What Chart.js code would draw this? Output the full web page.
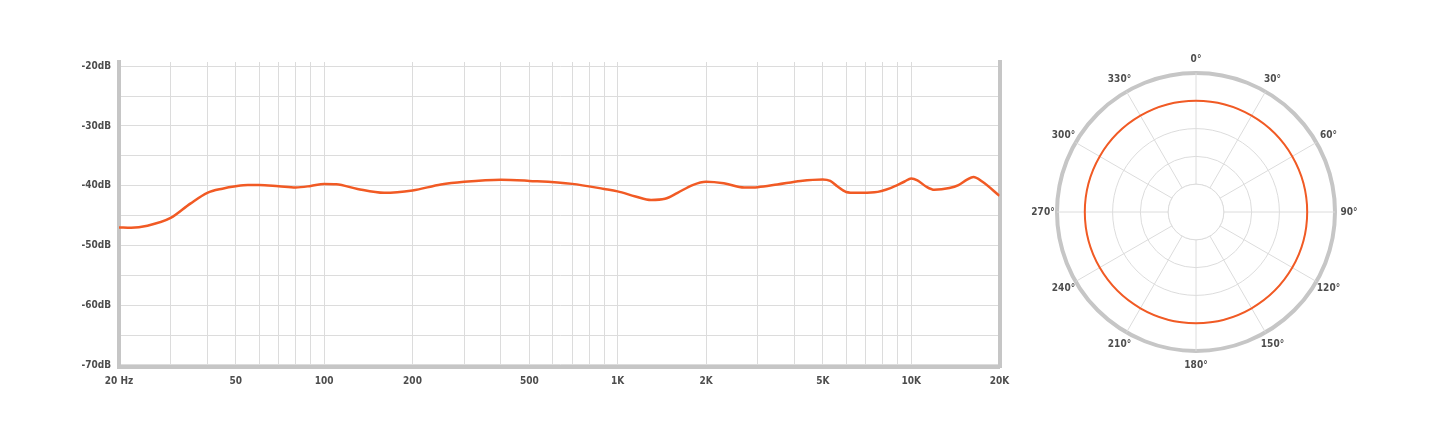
<!DOCTYPE html>
<html>
<head>
<meta charset="utf-8">
<script src="https://cdn.jsdelivr.net/npm/chart.js@4.4.1/dist/chart.umd.min.js"></script>
<style>
  html, body { margin: 0; padding: 0; background: #fff; }
  #resp { position: absolute; left: 0; top: 0; width: 1020px; height: 434px; }
  #polar { position: absolute; left: 1026px; top: 32px; width: 340px; height: 360px; }
</style>
</head>
<body>
<div id="resp"><canvas id="respChart"></canvas></div>
<div id="polar"><canvas id="polarChart"></canvas></div>
<script>
// frequency response (Hz / dB)
const freqHz = [20, 22, 25, 30, 35, 40, 45, 50, 55, 60, 70, 80, 90, 100, 110, 130, 160, 200, 250, 300,
  400, 500, 700, 900, 1000, 1150, 1300, 1450, 1600, 1800, 2000, 2300, 2700, 3000, 3500, 4200, 5000, 5300,
  5600, 6000, 6500, 7500, 8500, 9500, 10000, 10500, 11200, 12000, 13500, 14500, 15500, 16300, 17500, 20000];
const responseDb = [-47.0, -47.05, -46.7, -45.4, -43.0, -41.2, -40.5, -40.1, -39.9, -39.9, -40.1, -40.3, -40.05,
  -39.7, -39.75, -40.55, -41.2, -40.8, -39.8, -39.35, -39.0, -39.2, -39.7, -40.55, -40.95, -41.8, -42.4, -42.2,
  -41.2, -39.9, -39.35, -39.6, -40.3, -40.25, -39.8, -39.2, -38.95, -39.2, -40.1, -41.05, -41.2, -41.1, -40.4,
  -39.3, -38.8, -39.1, -40.1, -40.7, -40.4, -39.9, -39.0, -38.55, -39.35, -41.7];

// axis ticks
const freqGridLines = [20, 30, 40, 50, 60, 70, 80, 90, 100, 200, 300, 400, 500, 600, 700, 800, 900,
  1000, 2000, 3000, 4000, 5000, 6000, 7000, 8000, 9000, 10000, 20000];
const freqTicks = [20, 50, 100, 200, 500, 1000, 2000, 5000, 10000, 20000];
const freqTickLabels = ['20 Hz', '50', '100', '200', '500', '1K', '2K', '5K', '10K', '20K'];
const dbGridLines = [-70, -65, -60, -55, -50, -45, -40, -35, -30, -25, -20];
const dbTicks = [-20, -30, -40, -50, -60, -70];
const dbTickLabels = ['-20dB', '-30dB', '-40dB', '-50dB', '-60dB', '-70dB'];

// polar pattern
const polarAngles = ['0°', '30°', '60°', '90°', '120°', '150°', '180°', '210°', '240°', '270°', '300°', '330°'];
const polarLevel = [4, 4, 4, 4, 4, 4, 4, 4, 4, 4, 4, 4];

const orange = '#f15a24';
const gridColor = '#dcdcdc';
const frameColor = '#c6c6c6';
const textColor = '#4d4d4d';
const labelFont = "'Liberation Sans Narrow', 'DejaVu Sans Condensed', 'Roboto', sans-serif";

Chart.defaults.font.family = labelFont;
Chart.defaults.font.weight = 'bold';
Chart.defaults.font.size = 10;
Chart.defaults.color = textColor;

// 주파수 응답 차트
new Chart(document.getElementById('respChart'), {
  type: 'line',
  data: {
    datasets: [{
      data: freqHz.map((f, i) => ({ x: f, y: responseDb[i] })),
      borderColor: orange,
      borderWidth: 2.5,
      pointRadius: 0,
      fill: false,
      cubicInterpolationMode: 'monotone'
    }]
  },
  options: {
    responsive: true,
    maintainAspectRatio: false,
    animation: false,
    layout: { padding: { top: 62, left: 0, right: 0, bottom: 0 } },
    plugins: { legend: { display: false }, tooltip: { enabled: false } },
    scales: {
      x: {
        type: 'logarithmic',
        min: 20,
        max: 20000,
        afterBuildTicks: scale => { scale.ticks = freqGridLines.map(v => ({ value: v })); },
        afterFit: scale => { scale.height = 67; },
        ticks: {
          autoSkip: false,
          maxRotation: 0,
          padding: 8,
          callback: v => {
            const i = freqTicks.indexOf(v);
            return i >= 0 ? freqTickLabels[i] : '';
          }
        },
        grid: { color: gridColor, lineWidth: 1, drawTicks: false },
        border: { display: true, color: frameColor, width: 4 }
      },
      y: {
        min: -70.35,
        max: -19.3,
        afterBuildTicks: scale => { scale.ticks = dbGridLines.map(v => ({ value: v })); },
        afterFit: scale => { scale.width = 119; },
        ticks: {
          padding: 8,
          callback: v => {
            const i = dbTicks.indexOf(v);
            return i >= 0 ? dbTickLabels[i] : '';
          }
        },
        grid: { color: gridColor, lineWidth: 1, drawTicks: false },
        border: { display: true, color: frameColor, width: 4 }
      },
      y2: {
        position: 'right',
        min: -70.35,
        max: -19.3,
        afterFit: scale => { scale.width = 20.5; },
        ticks: { display: false },
        grid: { display: false, drawTicks: false },
        border: { display: true, color: frameColor, width: 4 }
      }
    }
  }
});

// 극좌표 라벨 (각도 방향 중앙 정렬)
const polarLabels = {
  id: 'polarLabels',
  beforeDatasetsDraw(chart) {
    const scale = chart.scales.r;
    const ctx = chart.ctx;
    const r1 = scale.getDistanceFromCenterForValue(1);
    ctx.save();
    ctx.beginPath();
    ctx.arc(scale.xCenter, scale.yCenter, r1, 0, Math.PI * 2);
    ctx.fillStyle = '#fff';
    ctx.fill();
    ctx.lineWidth = 1;
    ctx.strokeStyle = gridColor;
    ctx.stroke();
    ctx.restore();
  },
  afterDraw(chart) {
    const scale = chart.scales.r;
    const ctx = chart.ctx;
    ctx.save();
    ctx.font = 'bold 10px ' + labelFont;
    ctx.fillStyle = textColor;
    ctx.textAlign = 'center';
    ctx.textBaseline = 'middle';
    polarAngles.forEach((label, i) => {
      const p = scale.getPointPosition(i, scale.drawingArea + 14);
      ctx.fillText(label, p.x, p.y);
    });
    ctx.restore();
  }
};

new Chart(document.getElementById('polarChart'), {
  type: 'radar',
  data: {
    labels: polarAngles,
    datasets: [{
      data: polarLevel,
      borderColor: orange,
      borderWidth: 2,
      pointRadius: 0,
      fill: false,
      tension: 0.351
    }]
  },
  options: {
    responsive: true,
    maintainAspectRatio: false,
    animation: false,
    layout: { padding: { left: 31, right: 31, top: 41, bottom: 41 } },
    plugins: { legend: { display: false }, tooltip: { enabled: false } },
    scales: {
      r: {
        min: 0,
        max: 5,
        ticks: { display: false, stepSize: 1 },
        pointLabels: { display: false },
        angleLines: { color: gridColor, lineWidth: 1 },
        grid: {
          circular: true,
          color: ctx => (ctx.tick && ctx.tick.value === 5 ? frameColor : gridColor),
          lineWidth: ctx => (ctx.tick && ctx.tick.value === 5 ? 4 : 1)
        }
      }
    }
  },
  plugins: [polarLabels]
});
</script>
</body>
</html>
